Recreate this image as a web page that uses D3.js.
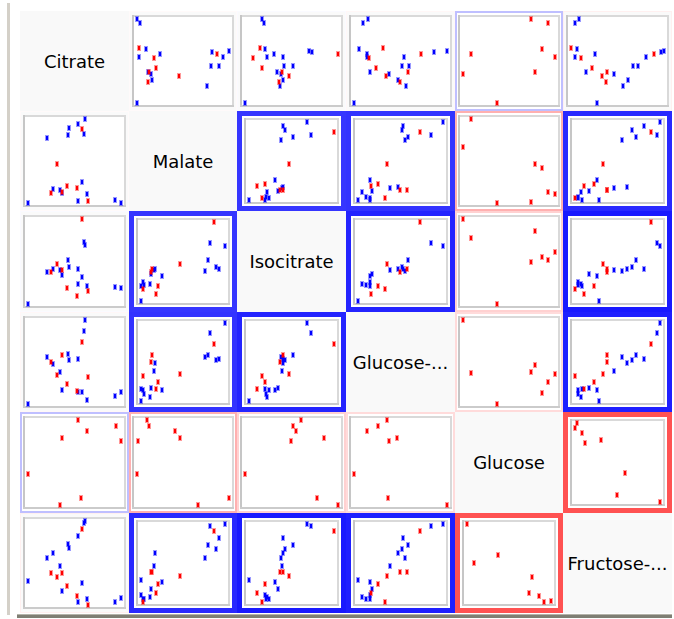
<!DOCTYPE html>
<html>
<head>
<meta charset="utf-8">
<script src="https://cdn.jsdelivr.net/npm/d3@7/dist/d3.min.js"></script>
<style>
  html, body { margin: 0; padding: 0; background: #ffffff; }
  svg { display: block; }
</style>
</head>
<body>
<svg id="chart" width="674" height="619"></svg>
<script>
// ---- Metabolites shown on the matrix diagonal ----
const variables = ["Citrate", "Malate", "Isocitrate", "Glucose-6-phosphate", "Glucose", "Fructose-6-phosphate"];

// ---- Main samples (relative peak areas); group A = blue, group B = red ----
const sampleGroup = ["A","A","A","A","A","A","A","A","A","A","A","A","A","A","A",
                     "B","B","B","B","B","B","B"];
const citrate    = [0, 20.5, 26.7, 34.4, 37.0, 44.0, 43.2, 54.2, 54.2, 57.9, 60.4, 61.5, 63.7, 94.5, 100,
                    25.3, 31.5, 37.0, 42.0, 53.1, 57.9, 64.5];
const malate     = [0, 76.7, 16.2, 15.8, 11.9, 89.3, 80.6, 93.7, 2.4, 24.9, 82.2, 100, 10.3, 3.2, 0.4,
                    12.3, 46.2, 13.0, 20.6, 18.2, 87.0, 2.4];
const isocitrate = [0, 38.0, 40.8, 39.2, 34.1, 42.7, 51.8, 40.8, 23.5, 31.0, 72.9, 69.0, 21.2, 20.4, 18.4,
                    36.9, 47.1, 40.0, 18.4, 9.0, 100, 15.7];
const g6p        = [0, 55.8, 47.8, 38.2, 17.1, 51.8, 59.0, 53.8, 13.9, 14.3, 86.1, 100, 5.2, 9.2, 14.7,
                    50.2, 34.3, 58.2, 23.9, 15.9, 72.9, 31.7];
const f6p        = [28.6, 56.0, 62.0, 46.3, 16.5, 67.3, 72.5, 81.6, 3.9, 25.5, 97.3, 100, 6.7, 3.9, 8.6,
                    37.6, 33.7, 38.4, 22.7, 11.0, 90.2, 0];

// ---- Glucose assay runs (group B only); every glucose panel plots these ----
const assayGlucose    = [100, 92.5, 86.2, 78.3, 74.7, 36.8, 8.3, 0];
const assayCitrate    = [54.2, 94.9, 63.6, 36.7, 100, 0, 57.8, 34.5];
const assayMalate     = [10.4, 13.4, 42.0, 46.5, 1.1, 0, 100, 66.2];
const assayIsocitrate = [61.0, 51.5, 54.7, 85.6, 49.5, 0, 77.4, 100];
const assayG6P        = [36.0, 25.6, 13.6, 46.0, 38.0, 0, 36.6, 100];
const assayF6P        = [1.8, 0, 7.7, 31.3, 12.0, 59.7, 50.2, 100];

// ---- Pairwise correlation (drives the frame colour and thickness) ----
const corr = [
  [ 1.00, -0.02,  0.02, -0.03,  0.25, -0.06],
  [-0.02,  1.00,  0.79,  0.80, -0.31,  0.84],
  [ 0.02,  0.79,  1.00,  0.86, -0.18,  0.90],
  [-0.03,  0.80,  0.86,  1.00, -0.14,  0.88],
  [ 0.25, -0.31, -0.18, -0.14,  1.00, -0.68],
  [-0.06,  0.84,  0.90,  0.88, -0.68,  1.00]
];

const groupColor = { A: "#0000ff", B: "#ff0000" };

const mainColumns = {
  "Citrate": citrate, "Malate": malate, "Isocitrate": isocitrate,
  "Glucose-6-phosphate": g6p, "Fructose-6-phosphate": f6p
};
const assayColumns = {
  "Citrate": assayCitrate, "Malate": assayMalate, "Isocitrate": assayIsocitrate,
  "Glucose-6-phosphate": assayG6P, "Glucose": assayGlucose, "Fructose-6-phosphate": assayF6P
};

const svg = d3.select("#chart");

// window chrome: left splitter and bottom edge
svg.append("rect").attr("x", 7).attr("y", 3).attr("width", 3).attr("height", 612).attr("fill", "#d4d0c8");
svg.append("rect").attr("x", 17).attr("y", 614).attr("width", 655).attr("height", 1).attr("fill", "#b4b3aa");
svg.append("rect").attr("x", 17).attr("y", 615).attr("width", 655).attr("height", 3).attr("fill", "#7f7f74");

const gridX = d3.scaleBand().domain(d3.range(variables.length)).range([20, 672]);
const gridY = d3.scaleBand().domain(d3.range(variables.length)).range([10.5, 613]);

const borderWidth = d3.scaleThreshold().domain([0.1, 0.5]).range([1, 2, 5]);
function borderColor(r) {
  const t = Math.min(1, Math.abs(r));
  const c = Math.round(255 * (1 - t));
  return r >= 0 ? d3.rgb(c, c, 255) : d3.rgb(255, c, c);
}

function cellBox(i, j) {
  const x0 = Math.round(gridX(j)), x1 = Math.round(gridX(j) + gridX.bandwidth());
  const y0 = Math.round(gridY(i)), y1 = Math.round(gridY(i) + gridY.bandwidth());
  return { x0, x1, y0, y1 };
}

// shorten a label with "..." until it fits the cell
function fitLabel(textSel, full, maxW) {
  textSel.text(full);
  if (textSel.node().getComputedTextLength() <= maxW) return;
  for (let n = full.length - 1; n > 0; n--) {
    textSel.text(full.slice(0, n) + "...");
    if (textSel.node().getComputedTextLength() <= maxW) return;
  }
}

variables.forEach((rowVar, i) => {
  variables.forEach((colVar, j) => {
    const b = cellBox(i, j);
    const g = svg.append("g");

    if (i === j) {
      g.append("rect").attr("x", b.x0).attr("y", b.y0)
        .attr("width", b.x1 - b.x0).attr("height", b.y1 - b.y0).attr("fill", "#f9f9f9");
      const t = g.append("text")
        .attr("x", (b.x0 + b.x1) / 2).attr("y", (b.y0 + b.y1) / 2 + 6.5)
        .attr("text-anchor", "middle")
        .attr("font-family", "DejaVu Sans, Verdana, sans-serif")
        .attr("font-size", 18).attr("fill", "#000");
      fitLabel(t, rowVar, (b.x1 - b.x0) - 4);
      return;
    }

    const r = corr[i][j];
    const bw = borderWidth(Math.abs(r));
    g.append("rect").attr("x", b.x0).attr("y", b.y0)
      .attr("width", b.x1 - b.x0).attr("height", b.y1 - b.y0).attr("fill", borderColor(r));
    g.append("rect").attr("x", b.x0 + bw).attr("y", b.y0 + bw)
      .attr("width", b.x1 - b.x0 - 2 * bw).attr("height", b.y1 - b.y0 - 2 * bw)
      .attr("fill", bw >= 2 ? "#ffffff" : "#fafafa");

    // plot frame
    const insX = bw >= 5 ? 7 : 3, insY = bw >= 5 ? 7 : 4;
    const fx0 = b.x0 + insX, fx1 = b.x1 - insX, fy0 = b.y0 + insY, fy1 = b.y1 - insY;
    g.append("rect").attr("x", fx0 + 1).attr("y", fy0 + 1)
      .attr("width", fx1 - fx0 - 2).attr("height", fy1 - fy0 - 2)
      .attr("fill", "#ffffff").attr("stroke", "#d9d9d9").attr("stroke-width", 2);
    g.append("rect").attr("x", fx0).attr("y", fy0).attr("width", 2).attr("height", fy1 - fy0).attr("fill", "#c6c6c6");
    g.append("rect").attr("x", fx0).attr("y", fy1 - 2).attr("width", fx1 - fx0).attr("height", 2).attr("fill", "#cbcbcb");

    // data for this pair
    let xs, ys, groups;
    if (rowVar === "Glucose" || colVar === "Glucose") {
      xs = assayColumns[colVar];
      ys = assayColumns[rowVar];
      groups = xs.map(() => "B");
    } else {
      xs = mainColumns[colVar];
      ys = mainColumns[rowVar];
      groups = sampleGroup;
    }
    const x = d3.scaleLinear().domain(d3.extent(xs)).range([fx0 + 5, fx1 - 5.5]);
    const y = d3.scaleLinear().domain(d3.extent(ys)).range([fy1 - 4, fy0 + 3.5]);

    const pts = xs.map((v, k) => ({ px: Math.round(x(v)), py: Math.round(y(ys[k])), c: groupColor[groups[k]] }));
    const p = g.selectAll("g.pt").data(pts).join("g").attr("class", "pt");
    p.append("rect").attr("x", d => d.px - 2).attr("y", d => d.py - 3)
      .attr("width", 4).attr("height", 6).attr("fill", d => d.c).attr("opacity", 0.4);
    p.append("rect").attr("x", d => d.px - 1).attr("y", d => d.py - 2)
      .attr("width", 2).attr("height", 4).attr("fill", d => d.c);
  });
});
</script>
</body>
</html>
